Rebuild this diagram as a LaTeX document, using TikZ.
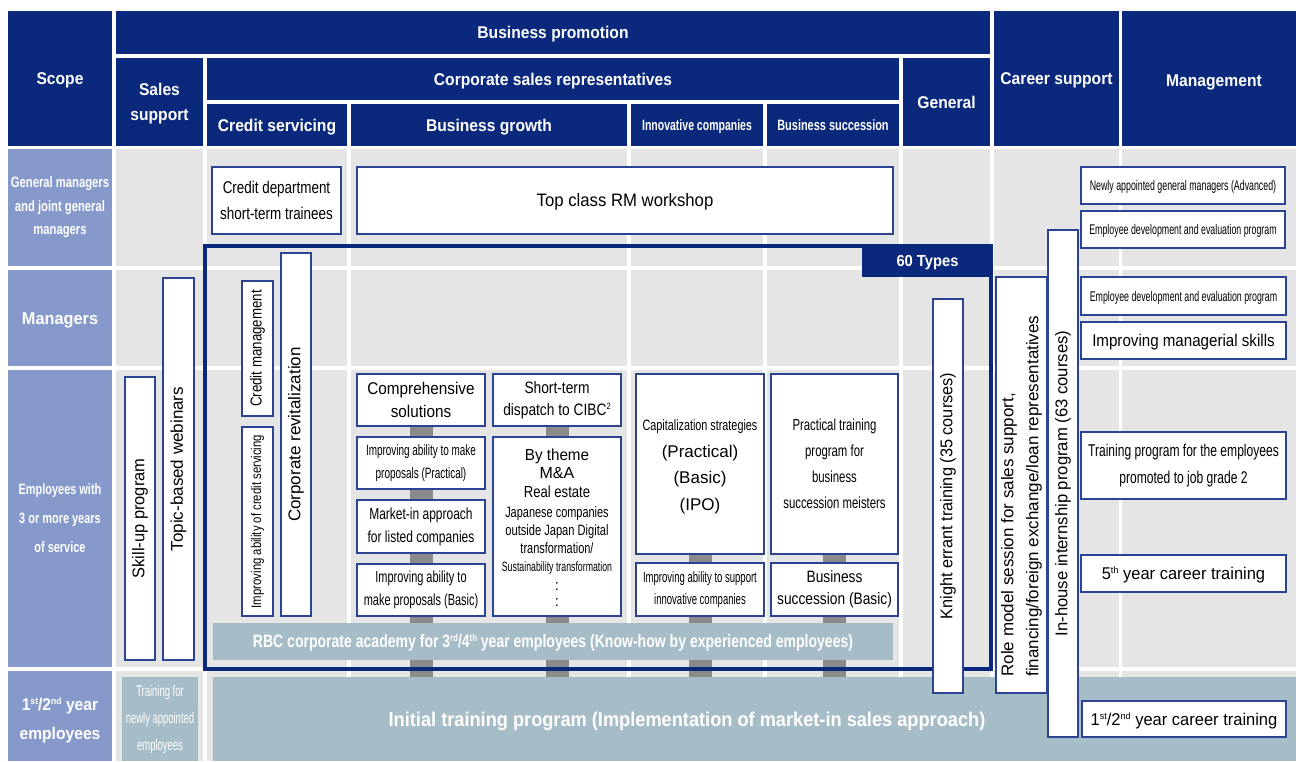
\documentclass[tikz,border=0pt]{standalone}
\usepackage{fontspec}
\setmainfont{Liberation Sans}
\usepackage{graphicx}
\usepackage{tikz}
\pgfdeclarelayer{back}
\pgfdeclarelayer{mid}
\pgfsetlayers{back,mid,main}
\definecolor{navy}{HTML}{0A297C}
\definecolor{peri}{HTML}{8799CB}
\definecolor{cellgray}{HTML}{E5E5E5}
\definecolor{barblue}{HTML}{A6BCC6}
\definecolor{conn}{HTML}{8A8A8A}
\definecolor{bord}{HTML}{2B4392}
\newcommand\ft[3]{\fontsize{#1}{#2}\selectfont\addfontfeatures{FakeStretch=#3}}
\newcommand\sps[1]{\raisebox{0.65ex}{\scalebox{0.55}{#1}}}
\newcommand\bx[7]{\node[#6,minimum width={#4-#2},minimum height={#5-#3}] (#1) at ({(#2+#4)/2},{(#3+#5)/2}) {#7};}
\newcommand\vbx[7]{\node[#6,rotate=90,minimum width={#5-#3},minimum height={#4-#2}] (#1) at ({(#2+#4)/2},{(#3+#5)/2}) {#7};}
\begin{document}
\begin{tikzpicture}[x=1pt,y=-1pt,
  hdr/.style={fill=navy,text=white,inner sep=0pt,outer sep=0pt,align=center,font=\bfseries\ft{17}{25}{0.92}},
  lab/.style={fill=peri,text=white,inner sep=0pt,outer sep=0pt,align=center},
  wbox/.style={draw=bord,line width=1.1pt,fill=white,inner sep=0pt,outer sep=0pt,align=center,text=black},
  bar/.style={fill=barblue,text=white,inner sep=0pt,outer sep=0pt,align=center},
  txt/.style={inner sep=0pt,outer sep=0pt,align=center},
  ch/.style={text height=#1,text depth=0pt},
  connbar/.style={draw=conn,line width=23pt}]
\useasboundingbox (0,0) rectangle (1296,761);
\begin{pgfonlayer}{back}
\fill[white] (0,0) rectangle (1296,761);
\foreach \xa/\xb in {116/203,207/347,351/627,631/763,767/899,903/990,994/1119,1122/1296}
  \foreach \ya/\yb in {149/266,270/366,370/667,671/761}
    \fill[cellgray] (\xa,\ya) rectangle (\xb,\yb);
\end{pgfonlayer}
% headers
\bx{scope}{8}{11}{112}{146}{hdr,ch=12.2pt}{Scope}
\bx{bprom}{116}{11}{990}{54}{hdr,ch=12.2pt}{Business promotion}
\bx{sales}{116}{58}{203}{146}{hdr}{}
\node[txt,text=white,font=\bfseries\ft{17}{25}{0.92}] (tsales) at (159.5,104) {Sales\\support};
\bx{csr}{207}{58}{899}{100}{hdr,ch=12.2pt}{Corporate sales representatives}
\bx{hcredit}{207}{104}{347}{146}{hdr,ch=12.2pt}{Credit servicing}
\bx{hgrowth}{351}{104}{627}{146}{hdr,ch=12.2pt}{Business growth}
\bx{hinnov}{631}{104}{763}{146}{hdr,ch=10.7pt,font=\bfseries\ft{15}{17}{0.7}}{Innovative companies}
\bx{hsucc}{767}{104}{899}{146}{hdr,ch=10.7pt,font=\bfseries\ft{15}{17}{0.73}}{Business succession}
\bx{hgen}{903}{58}{990}{146}{hdr,ch=12.2pt}{General}
\bx{hcareer}{994}{11}{1119}{146}{hdr,ch=12.2pt}{Career support}
\bx{hmgmt}{1122}{11}{1296}{146}{hdr}{}
\node[txt,ch=12.2pt,text=white,font=\bfseries\ft{17}{25}{0.92}] (tmgmt) at (1214,80) {Management};
% row labels
\bx{lgm}{8}{149}{112}{266}{lab,font=\bfseries\ft{15}{23.5}{0.75}}{General managers\\and joint general\\managers}
\bx{lmgr}{8}{270}{112}{366}{lab,ch=12.2pt,font=\bfseries\ft{17}{25}{0.96}}{Managers}
\bx{lemp}{8}{370}{112}{667}{lab,font=\bfseries\ft{15}{29}{0.73}}{Employees with\\3 or more years\\of service}
\bx{lfirst}{8}{671}{112}{761}{lab}{}
\node[txt,text=white,font=\bfseries\ft{17}{29}{0.92}] (tfirst) at (60,720) {1\sps{st}/2\sps{nd} year\\employees};
% frame
\node[draw=navy,line width=4pt,inner sep=0pt,minimum width=786,minimum height=423.5] (frame) at (598,457.25) {};
\bx{types}{862}{244}{993}{277}{hdr,ch=11.5pt,font=\bfseries\ft{16}{20}{0.92}}{60 Types}
% bars
\bx{academy}{213}{623}{893}{660}{bar,ch=12.9pt,font=\bfseries\ft{18}{20}{0.78}}{RBC corporate academy for 3\sps{rd}/4\sps{th} year employees (Know-how by experienced employees)}
\bx{initial}{213}{677}{1296}{761}{bar}{}
\node[txt,ch=14.3pt,text=white,font=\bfseries\ft{20}{24}{0.91}] (inittxt) at (687,719) {Initial training program (Implementation of market-in sales approach)};
\bx{trnew}{122}{677}{198}{761}{bar,font=\ft{15.5}{27}{0.61}}{Training for\\newly appointed\\employees}
% boxes
\bx{crdept}{212}{167}{341}{234}{wbox,font=\ft{17}{26}{0.79}}{Credit department\\short-term trainees}
\bx{toprm}{357}{167}{893}{234}{wbox,ch=12.9pt,font=\ft{18}{22}{0.93}}{Top class RM workshop}
\bx{newgm}{1081}{167}{1285}{204}{wbox,ch=10pt,font=\ft{14}{16}{0.63}}{Newly appointed general managers (Advanced)}
\bx{edep1}{1081}{211}{1285}{248}{wbox,ch=10pt,font=\ft{14}{16}{0.63}}{Employee development and evaluation program}
\bx{edep2}{1081}{277}{1286}{315}{wbox,ch=10pt,font=\ft{14}{16}{0.63}}{Employee development and evaluation program}
\bx{impmgr}{1081}{322}{1286}{359}{wbox,ch=12.2pt,font=\ft{17}{20}{0.89}}{Improving managerial skills}
\bx{grade2}{1081}{432}{1286}{499}{wbox,font=\ft{17}{27}{0.71}}{Training program for the employees\\promoted to job grade 2}
\bx{fifth}{1081}{555}{1286}{592}{wbox,ch=12.2pt,font=\ft{17}{20}{0.97}}{5\sps{th} year career training}
\bx{firstc}{1082}{701}{1286}{737}{wbox,ch=12.2pt,font=\ft{17}{20}{0.97}}{1\sps{st}/2\sps{nd} year career training}
\bx{comp}{357}{374}{485}{426}{wbox,font=\ft{17}{23}{0.9}}{Comprehensive\\solutions}
\bx{prac}{357}{437}{485}{489}{wbox,font=\ft{15}{23}{0.663}}{Improving ability to make\\proposals (Practical)}
\bx{mkt}{357}{500}{485}{553}{wbox,font=\ft{16}{23}{0.75}}{Market-in approach\\for listed companies}
\bx{basic}{357}{564}{485}{616}{wbox,font=\ft{16}{23}{0.684}}{Improving ability to\\make proposals (Basic)}
\bx{cibc}{493}{374}{621}{426}{wbox,font=\ft{16.5}{22}{0.834}}{Short-term\\dispatch to CIBC\sps{2}}
\bx{theme}{493}{437}{621}{616}{wbox}{}
\node[txt,ch=11.5pt,font=\ft{16}{18}{0.95}] (th1) at (557,455) {By theme};
\node[txt,ch=11.5pt,font=\ft{16}{18}{1}] (th2) at (557,473) {M\&A};
\node[txt,ch=11.5pt,font=\ft{16}{18}{0.82}] (th3) at (557,492) {Real estate};
\node[txt,ch=10.7pt,font=\ft{15}{18}{0.73}] (th4) at (557,512) {Japanese companies};
\node[txt,ch=10.7pt,font=\ft{15}{18}{0.74}] (th5) at (557,530) {outside Japan Digital};
\node[txt,ch=10.7pt,font=\ft{15}{18}{0.73}] (th6) at (557,548) {transformation/};
\node[txt,ch=9.7pt,font=\ft{13.5}{18}{0.65}] (th7) at (557,567) {Sustainability transformation};
\node[txt,font=\ft{15}{18}{1}] (th8) at (557,587) {:};
\node[txt,font=\ft{15}{18}{1}] (th9) at (557,603) {:};
\bx{capstr}{636}{374}{764}{554}{wbox}{}
\node[txt,ch=10.7pt,font=\ft{15}{16}{0.72}] (cap1) at (700,425) {Capitalization strategies};
\node[txt,ch=12.2pt,font=\ft{17}{20}{1}] (cap2) at (700,451) {(Practical)};
\node[txt,ch=12.2pt,font=\ft{17}{20}{1}] (cap3) at (700,477) {(Basic)};
\node[txt,ch=12.2pt,font=\ft{17}{20}{1}] (cap4) at (700,504) {(IPO)};
\bx{bsmeist}{771}{374}{898}{554}{wbox,font=\ft{16}{26}{0.71}}{Practical training\\program for\\business\\succession meisters}
\bx{innsup}{636}{563}{764}{616}{wbox,font=\ft{15}{22}{0.635}}{Improving ability to support\\innovative companies}
\bx{bsbasic}{771}{563}{898}{616}{wbox,font=\ft{16.5}{22}{0.834}}{Business\\succession (Basic)}
% vertical boxes
\vbx{skill}{125}{377}{155}{660}{wbox,font=\ft{17}{20}{0.97}}{Skill-up program}
\vbx{topic}{163}{278}{194}{660}{wbox,font=\ft{17}{20}{1}}{Topic-based webinars}
\vbx{crmgmt}{242}{281}{273}{416}{wbox,font=\ft{16}{18}{0.83}}{Credit management}
\vbx{impcs}{242}{427}{273}{616}{wbox,font=\ft{14}{16}{0.81}}{Improving ability of credit servicing}
\vbx{corprev}{281}{253}{311}{616}{wbox,font=\ft{17}{20}{1}}{Corporate revitalization}
\vbx{knight}{933}{299}{963}{693}{wbox,font=\ft{17}{20}{0.96}}{Knight errant training (35 courses)}
\vbx{role}{996}{277}{1047}{693}{wbox}{}
\node[txt,rotate=90,align=left,font=\ft{17}{25}{1}] (roletxt) at (1021.5,496) {Role model session for sales support,\\financing/foreign exchange/loan representatives};
\vbx{inhouse}{1048}{230}{1078}{737}{wbox,font=\ft{17}{20}{0.98}}{In-house internship program (63 courses)}
% connectors
\begin{pgfonlayer}{mid}
\draw[connbar] (comp.center) -- (comp.center |- initial.north);
\draw[connbar] (cibc.center) -- (cibc.center |- initial.north);
\draw[connbar] (capstr.center) -- (capstr.center |- initial.north);
\draw[connbar] (bsmeist.center) -- (bsmeist.center |- initial.north);
\end{pgfonlayer}
\end{tikzpicture}
\end{document}
